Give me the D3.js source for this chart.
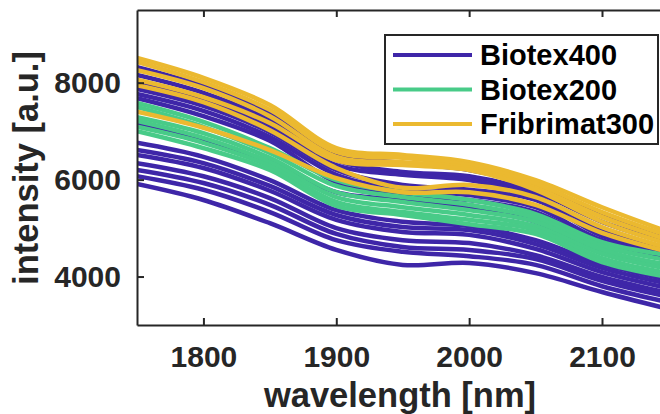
<!DOCTYPE html>
<html lang="en">
<head>
<meta charset="UTF-8" />
<title>NIR spectra</title>
<script src="https://cdn.jsdelivr.net/npm/d3@7"></script>
<style>
    body { margin: 0; background: #fff; }
    svg text { font-family: "Liberation Sans", Arial, sans-serif; font-weight: bold; }
</style>
</head>
<body>
<svg id="chart" width="660" height="414"></svg>
<script>
    // sample wavelengths [nm]
    const wavelengths = [1750, 1800, 1850, 1900, 1950, 2000, 2050, 2100, 2150];

    const biotex400 = [
        [8320, 7930, 7370, 6550, 6340, 6200, 5870, 5290, 4840],
        [8160, 7790, 7230, 6400, 6160, 6070, 5740, 5130, 4690],
        [7990, 7640, 7090, 6300, 6100, 5990, 5660, 4960, 4590],
        [7870, 7520, 6980, 6200, 5890, 5790, 5580, 4840, 4530],
        [7770, 7420, 6880, 6100, 5790, 5680, 5430, 4750, 4470],
        [7680, 7310, 6800, 5950, 5680, 5580, 5330, 4670, 4380],
        [7150, 6820, 6360, 5740, 5580, 5410, 5130, 4510, 4180],
        [6760, 6470, 5990, 5370, 5130, 5040, 4750, 4260, 3930],
        [6610, 6340, 5870, 5270, 5020, 4960, 4670, 4180, 3850],
        [6510, 6240, 5770, 5170, 4920, 4860, 4570, 4090, 3760],
        [6340, 6070, 5620, 5000, 4750, 4690, 4440, 3990, 3660],
        [6200, 5930, 5480, 4880, 4610, 4550, 4360, 3910, 3580],
        [6070, 5790, 5330, 4750, 4510, 4420, 4240, 3800, 3470],
        [5910, 5580, 5100, 4550, 4240, 4280, 4070, 3680, 3330]
    ];
    const biotex200 = [
        [7580, 7190, 6650, 5990, 5740, 5580, 5290, 4710, 4440],
        [7500, 7090, 6550, 5870, 5640, 5480, 5210, 4630, 4340],
        [7290, 6960, 6450, 5740, 5540, 5370, 5130, 4550, 4240],
        [7210, 6860, 6360, 5640, 5430, 5270, 5040, 4470, 4160],
        [7090, 6760, 6280, 5540, 5330, 5170, 4960, 4380, 4070],
        [7000, 6650, 6200, 5460, 5270, 5080, 4880, 4300, 3990]
    ];
    const fribrimat300 = [
        [8510, 8100, 7540, 6650, 6510, 6360, 5990, 5430, 4920],
        [8430, 8010, 7440, 6570, 6450, 6300, 5910, 5330, 4840],
        [8260, 7890, 7310, 6470, 6360, 6240, 5830, 5230, 4750],
        [8060, 7700, 7170, 6400, 6300, 6200, 5790, 5130, 4670],
        [7950, 7600, 7020, 6240, 5830, 5890, 5640, 5020, 4590],
        [7400, 7070, 6610, 6030, 5740, 5740, 5480, 4900, 4510]
    ];

    const seriesNames = ["Biotex400", "Biotex200", "Fribrimat300"];
    const seriesColors = ["#3e26a8", "#48cb88", "#ebb930"];
    const xTicks = [1800, 1900, 2000, 2100];
    const yTicks = [4000, 6000, 8000];

    const svg = d3.select("#chart");
    const plotLeft = 137, plotTop = 10, plotBottom = 325;

    const x = d3.scaleLinear().domain([1750, 2150]).range([plotLeft, plotLeft + 400 * 465 / 350]);
    const y = d3.scaleLinear().domain([3000, 9500]).range([plotBottom, plotTop]);

    svg.append("clipPath").attr("id", "plotArea")
        .append("rect")
        .attr("x", plotLeft).attr("y", plotTop)
        .attr("width", 660 - plotLeft).attr("height", plotBottom - plotTop);

    const line = d3.line()
        .x((d, i) => x(wavelengths[i]))
        .y(d => y(d))
        .curve(d3.curveCatmullRom.alpha(0.5));

    const plot = svg.append("g").attr("clip-path", "url(#plotArea)");
    [biotex400, biotex200, fribrimat300].forEach((group, gi) => {
        plot.append("g")
            .selectAll("path")
            .data(group)
            .enter()
            .append("path")
            .attr("d", line)
            .attr("fill", "none")
            .attr("stroke", seriesColors[gi])
            .attr("stroke-width", 4.5)
            .attr("stroke-linejoin", "round");
    });

    // axes
    const axisColor = "#262626";

    const xAxis = svg.append("g")
        .attr("transform", `translate(0,${plotBottom})`)
        .call(d3.axisBottom(x).tickValues(xTicks).tickFormat(d3.format("d"))
            .tickSize(-7).tickSizeOuter(0).tickPadding(21));

    const xTop = svg.append("g")
        .attr("transform", `translate(0,${plotTop})`)
        .call(d3.axisTop(x).tickValues(xTicks).tickSize(-7).tickSizeOuter(0).tickFormat(""));

    const yAxis = svg.append("g")
        .attr("transform", `translate(${plotLeft},0)`)
        .call(d3.axisLeft(y).tickValues(yTicks).tickFormat(d3.format("d"))
            .tickSize(-7).tickSizeOuter(0).tickPadding(16));

    [xAxis, xTop, yAxis].forEach(a => {
        a.select(".domain").attr("stroke", axisColor).attr("stroke-width", 2);
        a.selectAll(".tick line").attr("stroke", axisColor).attr("stroke-width", 2);
        a.selectAll(".tick text")
            .attr("fill", axisColor)
            .attr("font-size", 30)
            .attr("font-family", "'Liberation Sans', Arial, sans-serif")
            .attr("font-weight", "bold");
    });

    // axis labels
    svg.append("text")
        .attr("x", 400)
        .attr("y", 407)
        .attr("text-anchor", "middle")
        .attr("fill", axisColor)
        .attr("font-size", 34.5)
        .text("wavelength [nm]");

    svg.append("text")
        .attr("transform", "translate(38,168) rotate(-90)")
        .attr("text-anchor", "middle")
        .attr("fill", axisColor)
        .attr("font-size", 34.5)
        .text("intensity [a.u.]");

    // legend
    const legend = svg.append("g");
    legend.append("rect")
        .attr("x", 385).attr("y", 35)
        .attr("width", 273).attr("height", 109)
        .attr("fill", "#fff")
        .attr("stroke", axisColor)
        .attr("stroke-width", 2);

    seriesNames.forEach((name, i) => {
        const ly = 55 + i * 34.5;
        legend.append("line")
            .attr("x1", 393).attr("x2", 472)
            .attr("y1", ly).attr("y2", ly)
            .attr("stroke", seriesColors[i])
            .attr("stroke-width", 4);
        legend.append("text")
            .attr("x", 480)
            .attr("y", ly)
            .attr("dy", "0.36em")
            .attr("fill", "#000")
            .attr("font-size", 29)
            .text(name);
    });
</script>
</body>
</html>
